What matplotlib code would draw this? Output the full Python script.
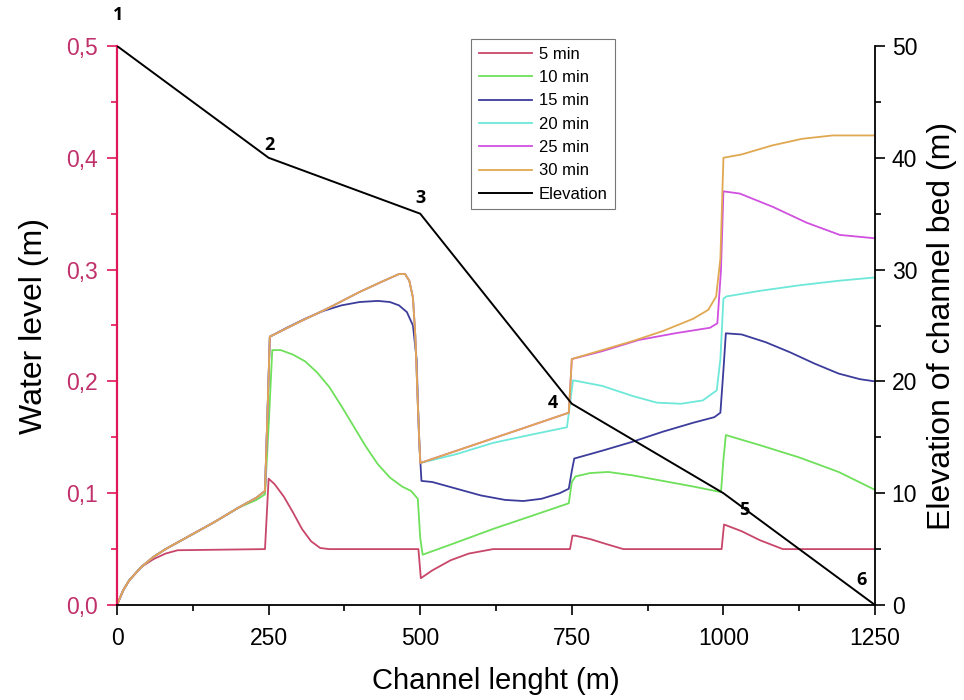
import matplotlib
matplotlib.use("Agg")
import matplotlib.pyplot as plt
from matplotlib.ticker import FixedLocator, MultipleLocator

plt.rcParams["font.family"] = ["Liberation Sans", "DejaVu Sans"]

# shared rising limb (0-244 m) used by every water level series
x_rise = [0, 10, 20, 40, 60, 80, 100, 130, 160, 200, 230, 244]
wl_rise = [0, 0.013, 0.022, 0.034, 0.043, 0.05, 0.056, 0.065, 0.074, 0.087, 0.096, 0.102]

x_5 = [0, 10, 20, 40, 60, 80, 100, 244, 250, 260, 275, 290, 305, 320, 335, 350,
       497, 501, 520, 550, 580, 620, 747, 751, 756, 780, 810, 835,
       997, 1001, 1006, 1030, 1060, 1098, 1250]
wl_5 = [0, 0.013, 0.022, 0.034, 0.041, 0.046, 0.049, 0.05, 0.113, 0.108, 0.097, 0.083,
        0.068, 0.057, 0.051, 0.05, 0.05, 0.024, 0.031, 0.04, 0.046, 0.05, 0.05, 0.062,
        0.062, 0.059, 0.054, 0.05, 0.05, 0.072, 0.071, 0.066, 0.058, 0.05, 0.05]

x_10 = [0, 10, 20, 40, 60, 80, 100, 130, 160, 200, 230, 244, 250, 256, 270, 290, 310,
        330, 350, 370, 390, 410, 430, 450, 470, 485, 496, 500, 504, 560, 620, 680, 745,
        750, 756, 780, 810, 850, 900, 950, 996, 1000, 1004, 1060, 1125, 1190, 1250]
wl_10 = [0, 0.013, 0.022, 0.034, 0.043, 0.05, 0.056, 0.065, 0.074, 0.087, 0.094, 0.099,
         0.16, 0.228, 0.228, 0.224, 0.218, 0.208, 0.195, 0.178, 0.16, 0.142, 0.126,
         0.114, 0.106, 0.102, 0.095, 0.06, 0.045, 0.056, 0.068, 0.079, 0.091, 0.11,
         0.115, 0.118, 0.119, 0.116, 0.111, 0.106, 0.101, 0.13, 0.152, 0.143, 0.132,
         0.119, 0.103]

x_15 = x_rise + [248, 252, 280, 310, 340, 370, 400, 430, 450, 465, 478, 488, 494, 498,
                 502, 520, 560, 600, 640, 670, 700, 730, 745, 750, 754, 800, 850, 900,
                 950, 985, 995, 1000, 1004, 1030, 1070, 1110, 1150, 1190, 1225, 1250]
wl_15 = wl_rise + [0.17, 0.24, 0.248, 0.256, 0.263, 0.268, 0.271, 0.272, 0.271, 0.268,
                   0.262, 0.25, 0.22, 0.15, 0.111, 0.11, 0.104, 0.098, 0.094, 0.093,
                   0.095, 0.1, 0.104, 0.12, 0.131, 0.138, 0.146, 0.155, 0.163, 0.168,
                   0.172, 0.21, 0.243, 0.242, 0.235, 0.226, 0.216, 0.207, 0.202, 0.2]

# 30 min limb between 250 and 745 m (20 and 25 min lie underneath it)
x_mid = [248, 252, 300, 350, 400, 440, 465, 475, 482, 488, 492, 496, 500, 560, 620, 680, 745]
wl_mid = [0.17, 0.24, 0.253, 0.266, 0.28, 0.29, 0.296, 0.296, 0.29, 0.275, 0.24, 0.18,
          0.127, 0.138, 0.149, 0.16, 0.172]

x_20 = x_rise + x_mid[:12] + [500, 560, 620, 680, 742, 747, 752, 800, 850, 890, 930, 966,
                              989, 995, 1000, 1005, 1060, 1126, 1190, 1250]
wl_20 = wl_rise + wl_mid[:12] + [0.127, 0.135, 0.145, 0.152, 0.159, 0.18, 0.201, 0.196,
                                 0.187, 0.181, 0.18, 0.183, 0.192, 0.22, 0.274, 0.276,
                                 0.281, 0.286, 0.29, 0.293]

x_25 = x_rise + x_mid + [750, 800, 860, 920, 978, 990, 996, 1000, 1027, 1082, 1137, 1192, 1250]
wl_25 = wl_rise + wl_mid + [0.22, 0.227, 0.237, 0.243, 0.248, 0.252, 0.3, 0.37, 0.368,
                            0.356, 0.342, 0.331, 0.328]

x_30 = x_rise + x_mid + [750, 800, 850, 900, 950, 975, 988, 995, 1000, 1030, 1080, 1130,
                         1180, 1250]
wl_30 = wl_rise + wl_mid + [0.22, 0.228, 0.236, 0.245, 0.256, 0.264, 0.276, 0.31, 0.4,
                            0.403, 0.411, 0.417, 0.42, 0.42]

x_elev = [0, 250, 500, 750, 1000, 1250]
elev = [50, 40, 35, 18, 10, 0]

point_labels = ["1", "2", "3", "4", "5", "6"]
label_x = [2, 252, 501, 719, 1034, 1228]
label_y = [52.8, 41.1, 36.4, 18.1, 8.5, 2.2]

series_names = ["5 min", "10 min", "15 min", "20 min", "25 min", "30 min"]
series_x = [x_5, x_10, x_15, x_20, x_25, x_30]
series_y = [wl_5, wl_10, wl_15, wl_20, wl_25, wl_30]
colors = ["#c8466a", "#6ee05a", "#3c3c9c", "#6ee8d8", "#d050e0", "#e0a850"]

wl_ticks = [0.0, 0.1, 0.2, 0.3, 0.4, 0.5]
wl_ticklabels = ["0,0", "0,1", "0,2", "0,3", "0,4", "0,5"]
x_ticks = [0, 250, 500, 750, 1000, 1250]
elev_ticks = [0, 10, 20, 30, 40, 50]

fig = plt.figure(figsize=(9.64, 7), dpi=100)
ax = fig.add_axes([0.1214, 0.1357, 0.7863, 0.7986])
ax2 = ax.twinx()

handles = []
for name, xs, ys, c in zip(series_names, series_x, series_y, colors):
    (ln,) = ax.plot(xs, ys, color=c, lw=1.3, label=name)
    handles.append(ln)

(ln_e,) = ax2.plot(x_elev, elev, color="black", lw=1.4, label="Elevation")
handles.append(ln_e)

for t, xx, yy in zip(point_labels, label_x, label_y):
    ax2.text(xx, yy, t, fontsize=13, fontweight="bold", ha="center", va="center",
             family=["Open Sans", "DejaVu Sans"])

ax.set_xlim(0, 1250)
ax.set_ylim(0, 0.5)
ax2.set_ylim(0, 50)

red = "#e0185a"
ax.spines["top"].set_visible(False)
ax.spines["right"].set_visible(False)
ax.spines["left"].set_color(red)
ax.spines["left"].set_linewidth(1.6)
ax.spines["bottom"].set_linewidth(1.3)
ax2.spines["top"].set_visible(False)
ax2.spines["left"].set_visible(False)
ax2.spines["bottom"].set_visible(False)
ax2.spines["right"].set_linewidth(1.3)

ax.yaxis.set_major_locator(FixedLocator(wl_ticks))
ax.set_yticklabels(wl_ticklabels)
ax.yaxis.set_minor_locator(MultipleLocator(0.05))
ax.set_xticks(x_ticks)
ax.xaxis.set_minor_locator(MultipleLocator(125))
ax2.set_yticks(elev_ticks)
ax2.yaxis.set_minor_locator(MultipleLocator(5))

ax.tick_params(axis="both", which="both", direction="out", labelsize=16.5)
ax.tick_params(axis="both", which="major", length=7, width=1.2)
ax.tick_params(axis="both", which="minor", length=4, width=1.2)
ax.tick_params(axis="x", which="major", pad=9)
ax.tick_params(axis="y", which="both", colors=red, labelcolor="#c0306a")
ax.tick_params(axis="y", which="major", pad=7)
ax2.tick_params(axis="y", which="both", direction="out", labelsize=16.5)
ax2.tick_params(axis="y", which="major", length=7, width=1.2, pad=5)
ax2.tick_params(axis="y", which="minor", length=4, width=1.2)

ax.set_xlabel("Channel lenght (m)", fontsize=21, labelpad=12)
ax.set_ylabel("Water level (m)", fontsize=23, labelpad=12)
ax2.set_ylabel("Elevation of channel bed (m)", fontsize=23, labelpad=7)

leg = ax2.legend(handles=handles, loc="upper left", bbox_to_anchor=(0.467, 1.012),
                 borderaxespad=0, fontsize=12, frameon=True, fancybox=False,
                 handlelength=3.2, handletextpad=0.4, labelspacing=0.5, borderpad=0.45)
leg.get_frame().set_edgecolor("#555555")
leg.get_frame().set_linewidth(0.8)

fig.savefig("out.png", dpi=100)
